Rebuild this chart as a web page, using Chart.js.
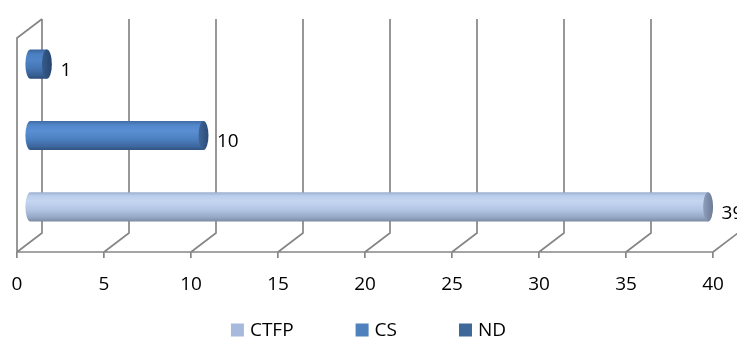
<!DOCTYPE html>
<html>
<head>
<meta charset="utf-8">
<style>
  html, body { margin: 0; padding: 0; background: #ffffff; }
  #wrap { width: 737px; height: 338px; }
</style>
<script src="https://cdn.jsdelivr.net/npm/chart.js@4.4.1/dist/chart.umd.min.js"></script>
</head>
<body>
<div id="wrap"><canvas id="chart" width="737" height="338"></canvas></div>
<script>
// Rows on the category axis, top to bottom
const categories = ['ND', 'CS', 'CTFP'];
// Series, in legend order
const seriesNames = ['CTFP', 'CS', 'ND'];
const seriesValues = [39, 10, 1];
// Value axis
const axisMin = 0;
const axisMax = 40;
const axisStep = 5;

// Shading for each cylinder: body gradient stops, end-cap gradient and legend swatch
const seriesStyles = {
  CTFP: {
    swatch: '#A7B9DC',
    body: [[0, '#9aaecd'], [0.12, '#bacdea'], [0.3, '#c4d6f1'], [0.6, '#b2c5e3'], [0.85, '#97a9c6'], [1, '#7b8ba4']],
    cap: ['#8e9fbd', '#6c7b95']
  },
  CS: {
    swatch: '#4F81BD',
    body: [[0, '#3f6ba4'], [0.15, '#5287cb'], [0.35, '#5a8fd4'], [0.65, '#4b7ebe'], [0.88, '#3c669d'], [1, '#2f5281']],
    cap: ['#3f669a', '#2c4c77']
  },
  ND: {
    swatch: '#3E6898',
    body: [[0, '#3a659c'], [0.15, '#4b7fc1'], [0.35, '#5085c8'], [0.65, '#4475b2'], [0.88, '#365e92'], [1, '#2b4b76']],
    cap: ['#365b8c', '#27456d']
  }
};

const FONT = '"Open Sans", "DejaVu Sans", sans-serif';
const FONT_SIZE = 19;
const GRID = '#868686';
// Depth of the 3-D box (front plane -> back wall)
const DEPTH_X = 25;
const DEPTH_Y = -19;

const datasets = seriesNames.map((name, i) => ({
  label: name,
  data: categories.map(c => (c === name ? seriesValues[i] : null)),
  backgroundColor: seriesStyles[name].swatch
}));

// Back wall gridlines, floor and left wall
const frame3d = {
  id: 'frame3d',
  beforeDatasetsDraw(chart) {
    const { ctx, chartArea: a, scales: { x } } = chart;
    ctx.save();
    ctx.strokeStyle = GRID;
    ctx.lineWidth = 1.7;
    ctx.lineJoin = 'miter';
    ctx.beginPath();
    ctx.moveTo(a.left, a.bottom);
    ctx.lineTo(a.left, a.top);
    ctx.lineTo(a.left + DEPTH_X, a.top + DEPTH_Y);
    ctx.moveTo(a.left, a.bottom);
    ctx.lineTo(a.right, a.bottom);
    x.ticks.forEach(t => {
      const px = x.getPixelForValue(t.value);
      ctx.moveTo(px, a.bottom);
      ctx.lineTo(px + DEPTH_X, a.bottom + DEPTH_Y);
      ctx.lineTo(px + DEPTH_X, a.top + DEPTH_Y);
    });
    ctx.stroke();
    ctx.restore();
  },
  // bars are replaced by cylinders drawn below
  beforeDatasetDraw() {
    return false;
  },
  afterDatasetsDraw(chart) {
    const { ctx } = chart;
    const dx = DEPTH_X / 2;
    const dy = DEPTH_Y / 2;
    chart.data.datasets.forEach((ds, di) => {
      const st = seriesStyles[ds.label];
      chart.getDatasetMeta(di).data.forEach((el, idx) => {
        const v = ds.data[idx];
        if (v === null || v === undefined) return;
        const p = el.getProps(['x', 'y', 'base', 'height'], true);
        const h = p.height;
        const rx = h * 0.17;
        const ry = h / 2;
        const x0 = p.base + dx;
        const x1 = p.x + dx;
        const cy = p.y + dy;
        const top = cy - ry;
        const bot = cy + ry;

        const g = ctx.createLinearGradient(0, top, 0, bot);
        st.body.forEach(([o, c]) => g.addColorStop(o, c));
        ctx.save();
        ctx.fillStyle = g;
        ctx.beginPath();
        ctx.moveTo(x1, top);
        ctx.lineTo(x0, top);
        ctx.ellipse(x0, cy, rx, ry, 0, -Math.PI / 2, Math.PI / 2, true);
        ctx.lineTo(x1, bot);
        ctx.closePath();
        ctx.fill();

        const gc = ctx.createLinearGradient(x1 - rx, 0, x1 + rx, 0);
        gc.addColorStop(0, st.cap[0]);
        gc.addColorStop(1, st.cap[1]);
        ctx.fillStyle = gc;
        ctx.beginPath();
        ctx.ellipse(x1, cy, rx, ry, 0, 0, Math.PI * 2);
        ctx.fill();
        ctx.restore();

        // value label beside the cylinder end
        ctx.save();
        ctx.font = FONT_SIZE + 'px ' + FONT;
        ctx.fillStyle = '#000000';
        ctx.textAlign = 'left';
        ctx.textBaseline = 'middle';
        ctx.fillText(String(v), p.x + DEPTH_X + 1, p.y - 3);
        ctx.restore();
      });
    });
  },
  // legend row under the axis
  afterDraw(chart) {
    const { ctx, width } = chart;
    const box = 13, gap = 6, spacing = 62, cy = 330;
    ctx.save();
    ctx.font = FONT_SIZE + 'px ' + FONT;
    ctx.textBaseline = 'middle';
    ctx.textAlign = 'left';
    const widths = seriesNames.map(n => box + gap + ctx.measureText(n).width);
    const total = widths.reduce((s, w) => s + w, 0) + spacing * (seriesNames.length - 1);
    let xPos = (width - total) / 2;
    seriesNames.forEach((n, i) => {
      ctx.fillStyle = seriesStyles[n].swatch;
      ctx.fillRect(xPos, cy - box / 2, box, box);
      ctx.fillStyle = '#000000';
      ctx.fillText(n, xPos + box + gap, cy + 1);
      xPos += widths[i] + spacing;
    });
    ctx.restore();
  }
};

new Chart(document.getElementById('chart'), {
  type: 'bar',
  data: { labels: categories, datasets },
  plugins: [frame3d],
  options: {
    indexAxis: 'y',
    responsive: false,
    animation: false,
    devicePixelRatio: 1,
    layout: { padding: { left: 17, right: 24, top: 38, bottom: 40 } },
    datasets: { bar: { grouped: false, categoryPercentage: 1, barPercentage: 0.41 } },
    plugins: { legend: { display: false }, tooltip: { enabled: false } },
    scales: {
      x: {
        min: axisMin,
        max: axisMax,
        afterFit(scale) {
          scale.height = 46;
          scale.paddingLeft = 0;
          scale.paddingRight = 0;
        },
        ticks: { stepSize: axisStep, color: '#000000', font: { family: FONT, size: FONT_SIZE }, padding: 15, maxRotation: 0 },
        grid: { drawOnChartArea: false, drawTicks: true, tickLength: 6, color: GRID, lineWidth: 1.7 },
        border: { display: false }
      },
      y: { display: false }
    }
  }
});
</script>
</body>
</html>
